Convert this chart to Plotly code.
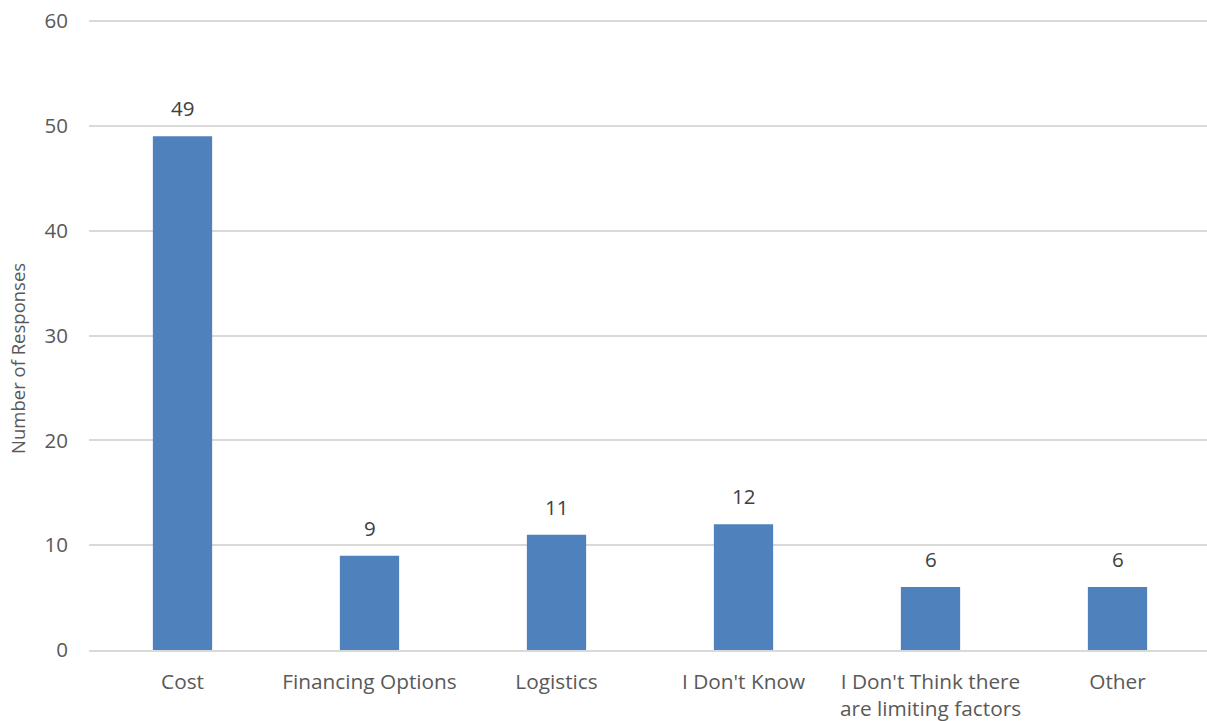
import plotly.graph_objects as go

categories = ["Cost", "Financing Options", "Logistics", "I Don't Know",
              "I Don't Think there<br>are limiting factors", "Other"]
values = [49, 9, 11, 12, 6, 6]
y_ticks = [0, 10, 20, 30, 40, 50, 60]

FONT = "Open Sans, Segoe UI, sans-serif"
L, R, T, B = 89, 0, 20, 71
W, H = 1211, 721

fig = go.Figure(go.Bar(
    x=categories, y=values,
    marker=dict(color="#4F81BD", line=dict(width=0)),
    hoverinfo="x+y",
))

for c, v in zip(categories, values):
    fig.add_annotation(x=c, y=v, text=str(v), showarrow=False,
                       yanchor="bottom", yshift=12,
                       font=dict(family=FONT, size=20.5, color="#404040"))

fig.add_annotation(xref="paper", yref="paper", x=-(L - 18) / (W - L - R), y=0.462,
                   text="Number of Responses", textangle=-90, showarrow=False,
                   xanchor="center", yanchor="middle",
                   font=dict(family=FONT, size=18.5, color="#595959"))

fig.update_layout(
    width=W, height=H,
    margin=dict(l=L, r=R, t=T, b=B, autoexpand=False),
    paper_bgcolor="white", plot_bgcolor="white",
    bargap=0.683,
    showlegend=False,
    font=dict(family=FONT, size=20.8, color="#595959"),
    xaxis=dict(showgrid=False, showline=True, linecolor="#D9D9D9", linewidth=1.5,
               tickfont=dict(size=20.8, color="#595959"), ticks="",
               automargin=False, ticklabelstandoff=12),
    yaxis=dict(range=[0, 60.1], tickvals=y_ticks, showgrid=True, gridcolor="#D9D9D9",
               gridwidth=1.5, zeroline=False, showline=False, ticks="",
               tickfont=dict(size=20.5, color="#595959"),
               automargin=False, ticklabelstandoff=20),
)

fig.write_html("out.html", config={"displayModeBar": False},
               post_script="document.body.style.margin='0';document.body.style.overflow='hidden';")
